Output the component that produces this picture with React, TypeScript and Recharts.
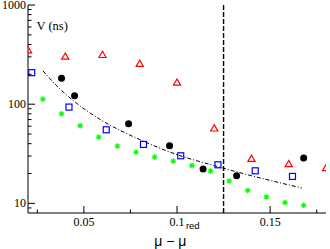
import React from 'react';
import { ComposedChart, Scatter, Line, XAxis, YAxis, ReferenceLine } from 'recharts';

const triX = [0.02, 0.04, 0.06, 0.08, 0.1, 0.12, 0.14, 0.16, 0.18];
const triV = [350, 302, 314, 255, 165, 57, 28.2, 24.9, 22.7];
const sqX = [0.022, 0.042, 0.062, 0.082, 0.102, 0.122, 0.142, 0.162];
const sqV = [208, 93.5, 55.2, 39.3, 30.2, 24.5, 21.3, 18.7];
const dotX = [0.038, 0.045, 0.074, 0.096, 0.114, 0.132, 0.168];
const dotV = [183, 121.6, 63.5, 38.1, 22.2, 19.0, 28.7];
const starX = [0.028, 0.038, 0.048, 0.058, 0.068, 0.078, 0.088, 0.098, 0.108, 0.118, 0.128, 0.138, 0.148, 0.158, 0.168];
const starV = [112.6, 80, 60.6, 46.6, 37.8, 32.9, 29.3, 26.7, 24.1, 21.2, 16.8, 13.5, 11.6, 10.2, 9.55];
const fitX = [0.028, 0.035, 0.045, 0.06, 0.08, 0.1, 0.12, 0.14, 0.167];
const fitV = [217, 156, 106, 68, 44, 31, 24, 19, 14.3];

const xMajor = [0.05, 0.1, 0.15];
const xMinor = [0.025, 0.075, 0.125, 0.175];
const yMajor = [10, 100, 1000];
const yMinor = [9, 20, 30, 40, 50, 60, 70, 80, 90, 200, 300, 400, 500, 600, 700, 800, 900];

const xTicks = [...xMinor, ...xMajor].sort((a, b) => a - b);
const yTicks = [...yMinor, ...yMajor].sort((a, b) => a - b);

const pts = (xs: number[], vs: number[]) => xs.map((x, i) => ({ x, v: vs[i] }));

const serif = 'Liberation Serif, Times New Roman, serif';
const sans = 'Liberation Sans, Arial, sans-serif';

const BottomTick = (p: any) => {
  const major = xMajor.includes(p.payload.value);
  return (
    <g>
      <line x1={p.x} x2={p.x} y1={p.y} y2={p.y - (major ? 7 : 3.5)} stroke="#000" />
      {major && (
        <text x={p.x} y={p.y + 12.7} textAnchor="middle" fontFamily={serif} fontSize={12} fill="#000">
          {String(p.payload.value)}
        </text>
      )}
    </g>
  );
};

const TopTick = (p: any) => {
  const major = xMajor.includes(p.payload.value);
  return <line x1={p.x} x2={p.x} y1={p.y} y2={p.y + (major ? 7 : 3.5)} stroke="#000" />;
};

const LeftTick = (p: any) => {
  const major = yMajor.includes(p.payload.value);
  return (
    <g>
      <line x1={p.x} x2={p.x + (major ? 7 : 3.5)} y1={p.y} y2={p.y} stroke="#000" />
      {major && (
        <text x={p.x - 2} y={p.y + 4} textAnchor="end" fontFamily={serif} fontSize={12} fill="#000">
          {String(p.payload.value)}
        </text>
      )}
    </g>
  );
};

const RightTick = (p: any) => {
  const major = yMajor.includes(p.payload.value);
  return <line x1={p.x} x2={p.x - (major ? 7 : 3.5)} y1={p.y} y2={p.y} stroke="#000" />;
};

const Triangle = ({ cx, cy }: any) => (
  <polygon
    points={`${cx},${cy - 3.6} ${cx - 3.6},${cy + 2.6} ${cx + 3.6},${cy + 2.6}`}
    fill="none"
    stroke="#ff0000"
    strokeWidth={1.2}
  />
);

const Square = ({ cx, cy }: any) => (
  <rect x={cx - 3} y={cy - 3} width={6} height={6} fill="none" stroke="#0000ff" strokeWidth={1.2} />
);

const Dot = ({ cx, cy }: any) => <circle cx={cx} cy={cy} r={3.5} fill="#000" />;

const Star = ({ cx, cy }: any) => {
  const r = 2.8;
  const d = r * 0.707;
  return (
    <g stroke="#00ff00" strokeWidth={1.2}>
      <line x1={cx - r} x2={cx + r} y1={cy} y2={cy} />
      <line x1={cx} x2={cx} y1={cy - r} y2={cy + r} />
      <line x1={cx - d} x2={cx + d} y1={cy - d} y2={cy + d} />
      <line x1={cx - d} x2={cx + d} y1={cy + d} y2={cy - d} />
    </g>
  );
};

const XTitle = (p: any) => {
  const vb = p.viewBox;
  return (
    <text x={vb.x + vb.width / 2} y={vb.y + 32.5} textAnchor="middle" fontFamily={sans} fontSize={14} fill="#000">
      μ − μ
      <tspan dx={-0.5} dy={-16.5} fontSize={9.5}>red</tspan>
    </text>
  );
};

const YTitle = (p: any) => {
  const vb = p.viewBox;
  return (
    <text x={vb.x + vb.width + 8.5} y={vb.y + 24.5} fontFamily={serif} fontSize={12.5} fill="#000">
      V (ns)
    </text>
  );
};

const App = () => {
  return (
    <div style={{ position: 'absolute', left: 0, top: 0 }}>
      <ComposedChart width={330} height={249} margin={{ top: 5, right: 4, bottom: 0, left: 0 }}>
        <XAxis
          xAxisId={0}
          dataKey="x"
          type="number"
          domain={[0.02, 0.18]}
          allowDataOverflow
          ticks={xTicks}
          interval={0}
          tickSize={0}
          tickMargin={0}
          tick={<BottomTick />}
          tickLine={false}
          height={36}
          axisLine={{ stroke: '#000' }}
          label={{ content: <XTitle /> }}
        />
        <XAxis
          xAxisId="t"
          orientation="top"
          dataKey="x"
          type="number"
          domain={[0.02, 0.18]}
          allowDataOverflow
          ticks={xTicks}
          interval={0}
          tickSize={0}
          tickMargin={0}
          tick={<TopTick />}
          tickLine={false}
          height={0}
          axisLine={{ stroke: '#000' }}
        />
        <YAxis
          yAxisId={0}
          dataKey="v"
          type="number"
          scale="log"
          domain={[8, 1000]}
          allowDataOverflow
          ticks={yTicks}
          interval={0}
          tickSize={0}
          tickMargin={0}
          tick={<LeftTick />}
          tickLine={false}
          width={28}
          axisLine={{ stroke: '#000' }}
          label={{ content: <YTitle /> }}
        />
        <YAxis
          yAxisId="r"
          orientation="right"
          dataKey="v"
          type="number"
          scale="log"
          domain={[8, 1000]}
          allowDataOverflow
          ticks={yTicks}
          interval={0}
          tickSize={0}
          tickMargin={0}
          tick={<RightTick />}
          tickLine={false}
          width={0}
          axisLine={{ stroke: '#000' }}
        />
        <ReferenceLine x={0.125} stroke="#000" strokeWidth={1.4} strokeDasharray="5 2" />
        <Line
          data={pts(fitX, fitV)}
          dataKey="v"
          type="monotone"
          stroke="#000"
          strokeWidth={1}
          strokeDasharray="4 2 1 2"
          dot={false}
          activeDot={false}
          isAnimationActive={false}
        />
        <Scatter data={pts(triX, triV)} dataKey="v" shape={<Triangle />} isAnimationActive={false} />
        <Scatter data={pts(sqX, sqV)} dataKey="v" shape={<Square />} isAnimationActive={false} />
        <Scatter data={pts(dotX, dotV)} dataKey="v" shape={<Dot />} isAnimationActive={false} />
        <Scatter data={pts(starX, starV)} dataKey="v" shape={<Star />} isAnimationActive={false} />
      </ComposedChart>
    </div>
  );
};

export default App;
